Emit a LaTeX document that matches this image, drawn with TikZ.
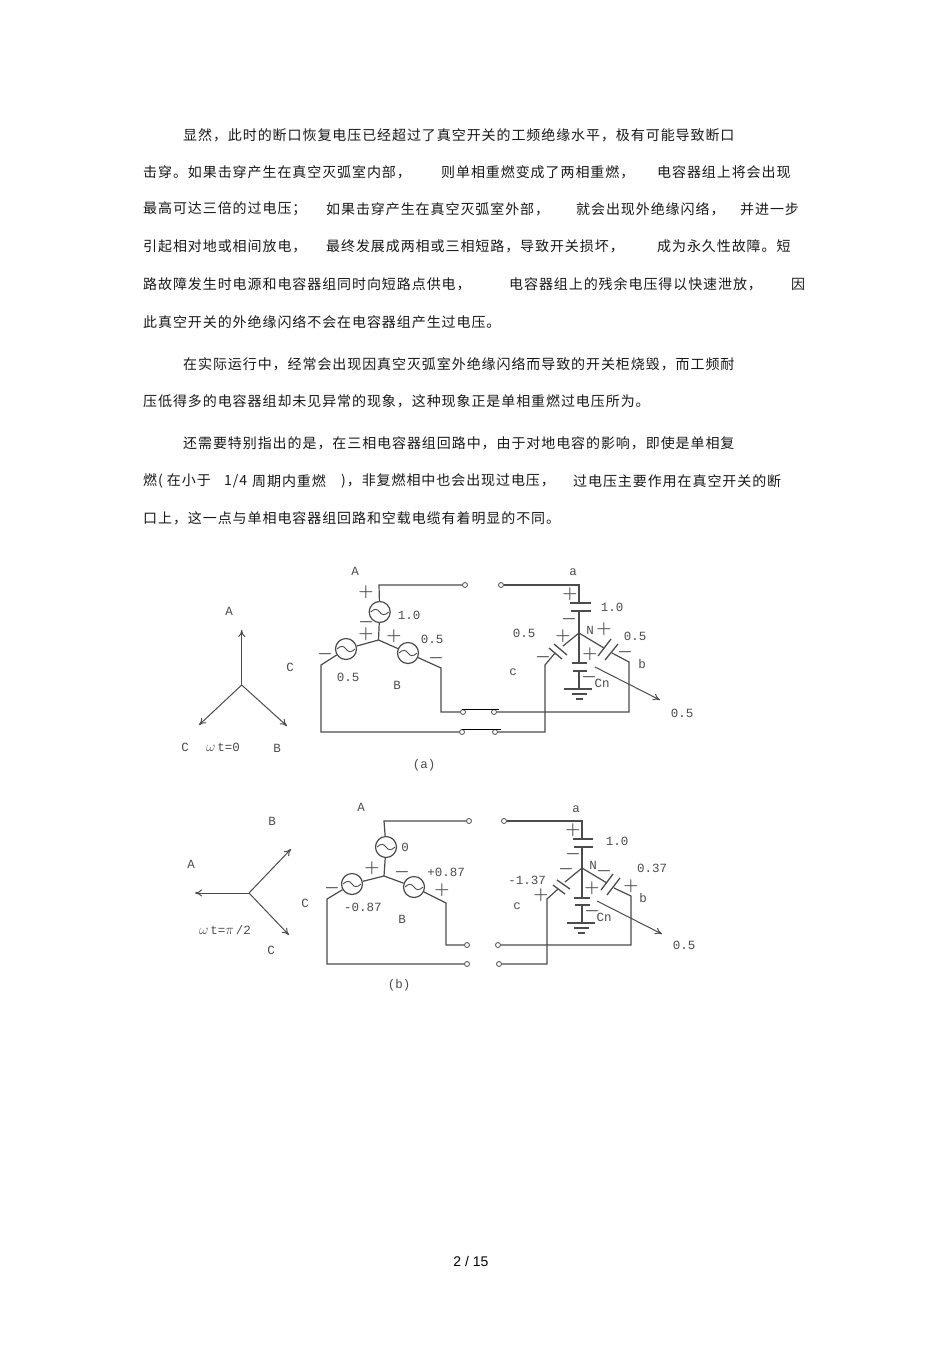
\documentclass[tikz,border=0pt]{standalone}
\usepackage{fontspec}
\setmainfont{Liberation Serif}
\newfontfamily\cjk[LetterSpace=6.6]{Noto Sans CJK SC}
\newfontfamily\lab{Liberation Mono}
\newfontfamily\pg{Liberation Sans}
\usetikzlibrary{arrows.meta}
\definecolor{ink}{gray}{0.3}
\tikzset{
 body/.style={anchor=west,inner sep=0pt,font=\cjk\fontsize{14}{14}\selectfont,text=black!90},
 wire/.style={draw=ink,line width=1.2pt},
 plate/.style={draw=ink,line width=1.3pt},
 swbar/.style={draw=black,line width=0.7pt},
 phasor/.style={draw=ink,line width=1pt,-{To[length=7pt,width=7pt]}},
 lbl/.style={inner sep=0pt,font=\lab\fontsize{12.5}{12.5}\selectfont,text=ink},
 sgn/.style={inner sep=0pt,font=\boldmath\fontsize{17}{17}\selectfont,text=ink},
 term/.style={circle,draw=ink,line width=0.8pt,fill=white,minimum size=5pt,inner sep=0pt},
 src/.style={circle,draw=ink,line width=1.2pt,minimum size=21pt,inner sep=0pt,
  path picture={\draw[ink,line width=0.9pt]
   ([shift={(-9pt,0pt)}]path picture bounding box.center)
   .. controls ([shift={(-5pt,4pt)}]path picture bounding box.center)
   and ([shift={(-2pt,3pt)}]path picture bounding box.center)
   .. (path picture bounding box.center)
   .. controls ([shift={(2pt,-3pt)}]path picture bounding box.center)
   and ([shift={(5pt,-4pt)}]path picture bounding box.center)
   .. ([shift={(9pt,0pt)}]path picture bounding box.center);}},
}
\newcommand{\plus}[3]{\node[sgn] (#1) at (#2,#3) {$+$};}
\newcommand{\minu}[3]{\node[sgn] (#1) at (#2,#3) {$-$};}
\newcommand{\bigsym}[1]{{\fontsize{15}{15}\selectfont$#1$}}
\begin{document}
\begin{tikzpicture}[x=1pt,y=-1pt]
\useasboundingbox (0,0) rectangle (950,1345);
\fill[white] (0,0) rectangle (950,1345);
% body text
\node[body] (l1) at (183,135) {显然，此时的断口恢复电压已经超过了真空开关的工频绝缘水平，极有可能导致断口};
\node[body] (l2a) at (143,172) {击穿。如果击穿产生在真空灭弧室内部，};
\node[body] (l2b) at (441,172) {则单相重燃变成了两相重燃，};
\node[body] (l2c) at (657,172) {电容器组上将会出现};
\node[body] (l3a) at (143,209) {最高可达三倍的过电压；};
\node[body] (l3b) at (326,209) {如果击穿产生在真空灭弧室外部，};
\node[body] (l3c) at (576,209) {就会出现外绝缘闪络，};
\node[body] (l3d) at (740,209) {并进一步};
\node[body] (l4a) at (143,246) {引起相对地或相间放电，};
\node[body] (l4b) at (326,246) {最终发展成两相或三相短路，导致开关损坏，};
\node[body] (l4c) at (657,246) {成为永久性故障。短};
\node[body] (l5a) at (143,284) {路故障发生时电源和电容器组同时向短路点供电，};
\node[body] (l5b) at (509,284) {电容器组上的残余电压得以快速泄放，};
\node[body] (l5c) at (791,284) {因};
\node[body] (l6) at (143,322) {此真空开关的外绝缘闪络不会在电容器组产生过电压。};
\node[body] (l7) at (183,364) {在实际运行中，经常会出现因真空灭弧室外绝缘闪络而导致的开关柜烧毁，而工频耐};
\node[body] (l8) at (143,401) {压低得多的电容器组却未见异常的现象，这种现象正是单相重燃过电压所为。};
\node[body] (l9) at (183,443) {还需要特别指出的是，在三相电容器组回路中，由于对地电容的影响，即使是单相复};
\node[body] (l10a) at (143,481) {燃( 在小于};
\node[body] (l10b) at (224,481) {1/4};
\node[body] (l10c) at (252,481) {周期内重燃};
\node[body] (l10d) at (341,481) {)，非复燃相中也会出现过电压，};
\node[body] (l10e) at (573,481) {过电压主要作用在真空开关的断};
\node[body] (l11) at (143,518) {口上，这一点与单相电容器组回路和空载电缆有着明显的不同。};
\node[inner sep=0pt,font=\pg\fontsize{14}{14}\selectfont] (page) at (471,1261) {2 / 15};

% ---------- diagram (a) ----------
\coordinate (aO) at (241.7,685);
\coordinate (aPA) at (241.7,630);
\coordinate (aPC) at (199,725);
\coordinate (aPB) at (287,726);
\draw[phasor] (aO) -- (aPA);
\draw[phasor] (aO) -- (aPC);
\draw[phasor] (aO) -- (aPB);
\node[lbl] (aLA) at (229,611) {A};
\node[lbl] (aLC) at (185,747) {C};
\node[lbl] (aLw) at (223,747) {\bigsym{\omega}\,t=0};
\node[lbl] (aLB) at (277,748) {B};
\node[src] (aSA) at (379.7,612) {};
\node[src] (aSC) at (346,649) {};
\node[src] (aSB) at (408,653) {};
\coordinate (aJ) at (378.5,640);
\coordinate (aT) at (379,585);
\coordinate (aCe) at (321,665);
\coordinate (aCb) at (321,732);
\coordinate (aBe) at (441,668);
\coordinate (aBb) at (441,712);
\node[term] (at1) at (465,585) {};
\node[term] (at2) at (501,585) {};
\node[term] (at3) at (463,712) {};
\node[term] (at4) at (494,712) {};
\node[term] (at5) at (462,732) {};
\node[term] (at6) at (495,732) {};
\draw[wire] (aJ) -- (aSA) (aSA) -- (aT) -- (at1);
\draw[wire] (aJ) -- (aSC) (aSC) -- (aCe) -- (aCb) -- (at5);
\draw[wire] (aJ) -- (aSB) (aSB) -- (aBe) -- (aBb) -- (at3);
\coordinate (ab1) at (462,709); \coordinate (ab2) at (499,709);
\coordinate (ab3) at (462,729); \coordinate (ab4) at (501,729);
\draw[swbar] (ab1) -- (ab2) (ab3) -- (ab4);
% right side
\coordinate (aN) at (579,633);
\coordinate (aat) at (579,585);
\coordinate (aa1) at (579,603);
\coordinate (aa2) at (579,611);
\draw[wire] (at2) -- (aat) -- (aa1);
\draw[wire] (aa2) -- (aN);
\coordinate (ap1) at (570,603); \coordinate (ap2) at (591,603);
\coordinate (ap3) at (571,611); \coordinate (ap4) at (591,611);
\draw[plate] (ap1) -- (ap2) (ap3) -- (ap4);
% left cap
\coordinate (acl1) at (563,646); \coordinate (acl2) at (555,653);
\coordinate (acc) at (545,665); \coordinate (acd) at (545,732);
\draw[wire] (aN) -- (acl1) (acl2) -- (acc) -- (acd) -- (at6);
\coordinate (ap5) at (549,648); \coordinate (ap6) at (562,659);
\coordinate (ap7) at (554,644); \coordinate (ap8) at (567,655);
\draw[plate] (ap5) -- (ap6) (ap7) -- (ap8);
% right cap
\coordinate (acr1) at (604,648); \coordinate (acr2) at (612,653);
\coordinate (acb) at (629,662); \coordinate (acf) at (629,712);
\draw[wire] (aN) -- (acr1) (acr2) -- (acb) -- (acf) -- (at4);
\coordinate (ap9) at (598,656); \coordinate (ap10) at (611,639);
\coordinate (ap11) at (605,660); \coordinate (ap12) at (618,644);
\draw[plate] (ap9) -- (ap10) (ap11) -- (ap12);
% centre cap and ground
\coordinate (acn1) at (579,663); \coordinate (acn2) at (579,671); \coordinate (acn3) at (579,689);
\draw[wire] (aN) -- (acn1) (acn2) -- (acn3);
\coordinate (ap13) at (572,663); \coordinate (ap14) at (587,663);
\coordinate (ap15) at (573,671); \coordinate (ap16) at (587,671);
\draw[plate] (ap13) -- (ap14) (ap15) -- (ap16);
\coordinate (ag1) at (564,689); \coordinate (ag2) at (592,689);
\coordinate (ag3) at (572,694); \coordinate (ag4) at (587,694);
\coordinate (ag5) at (576,699); \coordinate (ag6) at (583,699);
\draw[wire] (ag1) -- (ag2) (ag3) -- (ag4) (ag5) -- (ag6);
\coordinate (aAs) at (595,667); \coordinate (aAe) at (660,700);
\draw[phasor] (aAs) -- (aAe);
% labels
\node[lbl] (aL1) at (355,571) {A};
\node[lbl] (aL2) at (409,615) {1.0};
\node[lbl] (aL3) at (348,677) {0.5};
\node[lbl] (aL4) at (432,639) {0.5};
\node[lbl] (aL5) at (397,685) {B};
\node[lbl] (aL6) at (290,667) {C};
\node[lbl] (aL7) at (424,765) {(a)};
\node[lbl] (aL8) at (573,572) {a};
\node[lbl] (aL9) at (612,607) {1.0};
\node[lbl] (aL10) at (590,630) {N};
\node[lbl] (aL11) at (524,633) {0.5};
\node[lbl] (aL12) at (635,636) {0.5};
\node[lbl] (aL13) at (642,664) {b};
\node[lbl] (aL14) at (513,672) {c};
\node[lbl] (aL15) at (602,683) {Cn};
\node[lbl] (aL16) at (682,713) {0.5};
\plus{as1}{366}{592} \minu{as2}{366}{622} \plus{as3}{366}{634} \plus{as4}{394}{636}
\minu{as5}{325}{654} \minu{as6}{436}{658}
\plus{as7}{570}{594} \minu{as8}{569}{619} \plus{as9}{563}{636} \minu{as10}{543}{657}
\plus{as11}{604}{629} \minu{as12}{625}{652} \plus{as13}{590}{654} \minu{as14}{589}{677}

% ---------- diagram (b) ----------
\coordinate (bO) at (249,893);
\coordinate (bPA) at (195,893);
\coordinate (bPB) at (291,849);
\coordinate (bPC) at (289,935);
\draw[phasor] (bO) -- (bPA);
\draw[phasor] (bO) -- (bPB);
\draw[phasor] (bO) -- (bPC);
\node[lbl] (bLA) at (191,864) {A};
\node[lbl] (bLB) at (272,821) {B};
\node[lbl] (bLC) at (271,950) {C};
\node[lbl] (bLw) at (225,930) {\bigsym{\omega}\,t=\bigsym{\pi}\,/2};
\node[src] (bSA) at (386,847) {};
\node[src] (bSC) at (352,884) {};
\node[src] (bSB) at (414,887) {};
\coordinate (bJ) at (384,876);
\coordinate (bT) at (384,821);
\coordinate (bCe) at (327,899);
\coordinate (bCb) at (327,964);
\coordinate (bBe) at (446,903);
\coordinate (bBb) at (446,945);
\node[term] (bt1) at (469,821) {};
\node[term] (bt2) at (504,821) {};
\node[term] (bt3) at (467,945) {};
\node[term] (bt4) at (498,945) {};
\node[term] (bt5) at (467,964) {};
\node[term] (bt6) at (499,964) {};
\draw[wire] (bJ) -- (bSA) (bSA) -- (bT) -- (bt1);
\draw[wire] (bJ) -- (bSC) (bSC) -- (bCe) -- (bCb) -- (bt5);
\draw[wire] (bJ) -- (bSB) (bSB) -- (bBe) -- (bBb) -- (bt3);
\coordinate (bN) at (582,868);
\coordinate (bat) at (582,821);
\coordinate (ba1) at (582,839);
\coordinate (ba2) at (582,847);
\draw[wire] (bt2) -- (bat) -- (ba1);
\draw[wire] (ba2) -- (bN);
\coordinate (bp1) at (573,839); \coordinate (bp2) at (593,839);
\coordinate (bp3) at (574,847); \coordinate (bp4) at (593,847);
\draw[plate] (bp1) -- (bp2) (bp3) -- (bp4);
\coordinate (bcl1) at (565,882); \coordinate (bcl2) at (558,889);
\coordinate (bcc) at (547,899); \coordinate (bcd) at (547,964);
\draw[wire] (bN) -- (bcl1) (bcl2) -- (bcc) -- (bcd) -- (bt6);
\coordinate (bp5) at (553,885); \coordinate (bp6) at (565,894);
\coordinate (bp7) at (557,880); \coordinate (bp8) at (570,889);
\draw[plate] (bp5) -- (bp6) (bp7) -- (bp8);
\coordinate (bcr1) at (607,883); \coordinate (bcr2) at (614,888);
\coordinate (bcb) at (631,896); \coordinate (bcf) at (631,945);
\draw[wire] (bN) -- (bcr1) (bcr2) -- (bcb) -- (bcf) -- (bt4);
\coordinate (bp9) at (601,890); \coordinate (bp10) at (613,874);
\coordinate (bp11) at (607,895); \coordinate (bp12) at (620,878);
\draw[plate] (bp9) -- (bp10) (bp11) -- (bp12);
\coordinate (bcn1) at (582,898); \coordinate (bcn2) at (582,905); \coordinate (bcn3) at (582,923);
\draw[wire] (bN) -- (bcn1) (bcn2) -- (bcn3);
\coordinate (bp13) at (574,898); \coordinate (bp14) at (590,898);
\coordinate (bp15) at (575,905); \coordinate (bp16) at (590,905);
\draw[plate] (bp13) -- (bp14) (bp15) -- (bp16);
\coordinate (bg1) at (567,923); \coordinate (bg2) at (595,923);
\coordinate (bg3) at (574,928); \coordinate (bg4) at (589,928);
\coordinate (bg5) at (578,933); \coordinate (bg6) at (585,933);
\draw[wire] (bg1) -- (bg2) (bg3) -- (bg4) (bg5) -- (bg6);
\coordinate (bAs) at (597,901); \coordinate (bAe) at (662,934);
\draw[phasor] (bAs) -- (bAe);
\node[lbl] (bL1) at (361,807) {A};
\node[lbl] (bL2) at (405,847) {0};
\node[lbl] (bL3) at (363,907) {-0.87};
\node[lbl] (bL4) at (446,872) {+0.87};
\node[lbl] (bL5) at (402,919) {B};
\node[lbl] (bL6) at (305,903) {C};
\node[lbl] (bL7) at (399,985) {(b)};
\node[lbl] (bL8) at (576,809) {a};
\node[lbl] (bL9) at (617,841) {1.0};
\node[lbl] (bL10) at (593,865) {N};
\node[lbl] (bL11) at (527,880) {-1.37};
\node[lbl] (bL12) at (652,868) {0.37};
\node[lbl] (bL13) at (643,898) {b};
\node[lbl] (bL14) at (517,906) {c};
\node[lbl] (bL15) at (604,917) {Cn};
\node[lbl] (bL16) at (684,945) {0.5};
\plus{bs1}{372}{868} \minu{bs2}{402}{872} \plus{bs3}{442}{890} \minu{bs4}{332}{888}
\plus{bs5}{573}{830} \minu{bs6}{573}{854} \minu{bs7}{604}{871} \plus{bs8}{631}{886}
\minu{bs9}{566}{869} \plus{bs10}{541}{895} \plus{bs11}{592}{888} \minu{bs12}{592}{911}
\end{tikzpicture}
\end{document}
